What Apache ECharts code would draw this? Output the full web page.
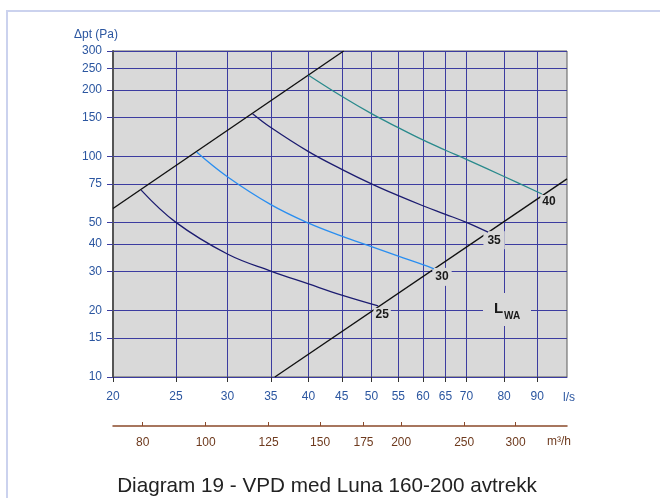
<!DOCTYPE html>
<html><head><meta charset="utf-8">
<script src="https://cdn.jsdelivr.net/npm/echarts@6/dist/echarts.min.js"></script>
<style>html,body{margin:0;padding:0;background:#fff}#c{width:660px;height:498px}</style>
</head><body><div id="c"></div>
<script>
// Tick values
const flowTicks = [20, 25, 30, 35, 40, 45, 50, 55, 60, 65, 70, 80, 90];       // l/s
const pressureTicks = [10, 15, 20, 30, 40, 50, 75, 100, 150, 200, 250, 300]; // Pa
const m3hTicks = [80, 100, 125, 150, 175, 200, 250, 300];                    // m3/h

// Limit lines [l/s, Pa]
const upperLimit = [[20, 58], [45.3, 300]];
const lowerLimit = [[35.5, 10], [100, 79]];

// Sound level curves L_WA [l/s, Pa]
const lwa25 = [[22.1, 70.3], [25, 50.2], [30, 36.1], [35, 30.2], [40, 26.4], [45, 23.5], [51.2, 21.0]];
const lwa30 = [[26.9, 104.6], [30, 80.8], [35, 60.4], [40, 49.8], [45, 43.5], [50, 39.0], [55, 35.3], [60, 32.3], [62.4, 30.9]];
const lwa35 = [[32.8, 156], [35, 135], [40, 105], [45, 87.3], [50, 75], [55, 66.3], [60, 59.7], [65, 54.6], [70, 50.2], [75.6, 45.3]];
const lwa40 = [[40, 233], [45, 187], [50, 156], [55, 134.8], [60, 118.6], [65, 106.5], [70, 96.9], [80, 81], [91.5, 67.5]];
const curveNames = ['25', '30', '35', '40'];

const blue = '#2b56a0';
const grid = '#3c3ca0';
const brown = '#6e3a1e';

function curve(name, data, color, off, pad) {
  return {
    type: 'line', name: name, data: data, xAxisIndex: 0, yAxisIndex: 0,
    showSymbol: false, symbol: 'none', smooth: 0.4,
    lineStyle: {color: color, width: 1.3}, z: 5,
    markPoint: {
      symbol: 'circle', symbolSize: 0, silent: true,
      data: [{coord: data[data.length - 1], value: name}],
      label: {show: true, position: 'inside', offset: off, formatter: name,
        fontFamily: 'Liberation Sans', fontWeight: 'bold', fontSize: 12, color: '#1a1a1a',
        backgroundColor: '#d9d9d9', padding: pad}
    }
  };
}

const chart = echarts.init(document.getElementById('c'), null, {renderer: 'canvas'});
chart.setOption({
  animation: false,
  textStyle: {fontFamily: 'Liberation Sans'},
  grid: {left: 113, top: 51, width: 454, height: 326, show: true,
    backgroundColor: '#d9d9d9', borderColor: '#5a5a5a', borderWidth: 1},
  xAxis: [{
    type: 'log', min: 20, max: 100, logBase: 10,
    axisLine: {show: true, lineStyle: {color: grid, width: 1}},
    axisTick: {show: true, length: 5, customValues: flowTicks, lineStyle: {color: '#333'}},
    axisLabel: {customValues: flowTicks, color: blue, fontSize: 12, margin: 14},
    splitLine: {show: true, lineStyle: {color: grid, width: 1}},
    minorTick: {show: false}, minorSplitLine: {show: false}
  }, {
    type: 'log', min: 72, max: 360, logBase: 10, position: 'bottom', offset: 49,
    axisLine: {show: true, lineStyle: {color: '#8a4a2a', width: 1.5}},
    axisTick: {show: true, inside: true, length: 4, customValues: m3hTicks, lineStyle: {color: '#8a4a2a'}},
    axisLabel: {customValues: m3hTicks, color: brown, fontSize: 12, margin: 11},
    splitLine: {show: false}
  }],
  yAxis: [{
    type: 'log', min: 10, max: 300, logBase: 10,
    axisLine: {show: true, lineStyle: {color: '#555', width: 2}},
    axisTick: {show: true, length: 6, customValues: pressureTicks, lineStyle: {color: grid}},
    axisLabel: {customValues: pressureTicks, color: blue, fontSize: 12, margin: 11},
    splitLine: {show: true, lineStyle: {color: grid, width: 1}},
    minorTick: {show: false}, minorSplitLine: {show: false}
  }],
  series: [
    {type: 'line', data: upperLimit, showSymbol: false, symbol: 'none', lineStyle: {color: '#111', width: 1.4}, z: 4},
    {type: 'line', data: lowerLimit, showSymbol: false, symbol: 'none', lineStyle: {color: '#111', width: 1.4}, z: 4},
    curve(curveNames[0], lwa25, '#1c1c70', [4, 9], [1, 2]),
    curve(curveNames[1], lwa30, '#2a8ef0', [8, 8], [3, 3]),
    curve(curveNames[2], lwa35, '#1c1c70', [6, 8], [3, 4]),
    curve(curveNames[3], lwa40, '#2a8a8c', [7, 8], [1, 2])
  ],
  graphic: [
    {type: 'rect', shape: {x: 7, y: 11, width: 720, height: 600}, style: {fill: 'none', stroke: '#cbd2ee', lineWidth: 2}, silent: true},
    {type: 'text', x: 74, y: 35, style: {text: 'Δpt (Pa)', fill: blue, font: '12px "Liberation Sans"', verticalAlign: 'middle', align: 'left'}},
    {type: 'text', x: 563, y: 398, style: {text: 'l/s', fill: blue, font: '12px "Liberation Sans"', verticalAlign: 'middle', align: 'left'}},
    {type: 'text', x: 547, y: 442, style: {text: 'm³/h', fill: brown, font: '12px "Liberation Sans"', verticalAlign: 'middle', align: 'left'}},
    {type: 'rect', shape: {x: 483, y: 293, width: 48, height: 33}, style: {fill: '#d9d9d9'}, z: 10},
    {type: 'text', x: 494, y: 309, z: 11, style: {text: 'L', fill: '#1a1a1a', font: 'bold 15px "Liberation Sans"', verticalAlign: 'middle', align: 'left'}},
    {type: 'text', x: 504, y: 316, z: 11, style: {text: 'WA', fill: '#1a1a1a', font: 'bold 10px "Liberation Sans"', verticalAlign: 'middle', align: 'left'}},
    {type: 'text', x: 327, y: 486, style: {text: 'Diagram 19 - VPD med Luna 160-200 avtrekk', fill: '#222', font: '20.7px "Liberation Sans"', verticalAlign: 'middle', align: 'center'}}
  ]
});
</script>
</body></html>
